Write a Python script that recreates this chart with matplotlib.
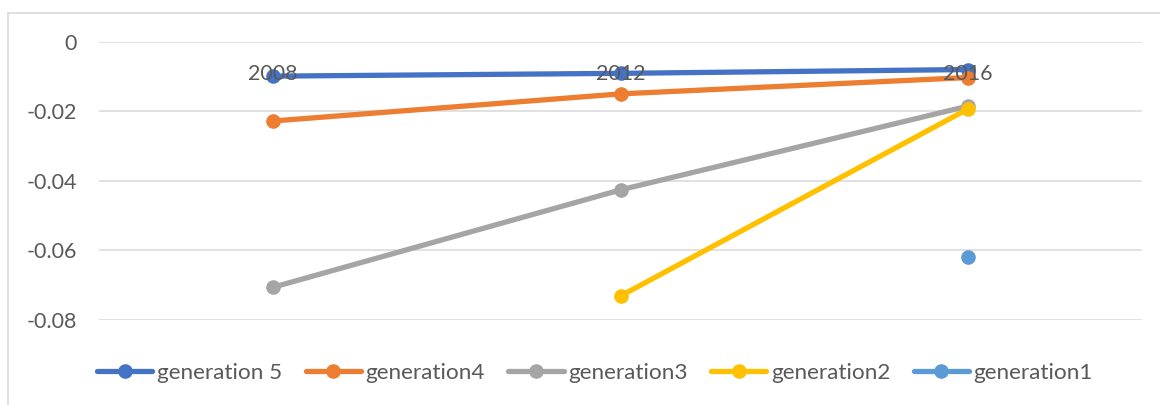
import numpy as np
import matplotlib
matplotlib.use("Agg")
import matplotlib.pyplot as plt
from matplotlib.patches import Rectangle

plt.rcParams['font.family'] = ['Lato', 'DejaVu Sans']

# data
years = ["2008", "2012", "2016"]
series_names = ["generation 5", "generation4", "generation3", "generation2", "generation1"]
gen5 = [-0.0099, -0.0091, -0.0080]
gen4 = [-0.0228, -0.0150, -0.0103]
gen3 = [-0.0706, -0.0426, -0.0185]
gen2 = [np.nan, -0.0731, -0.0193]
gen1 = [np.nan, np.nan, -0.0620]
y_ticks = [0, -0.02, -0.04, -0.06, -0.08]
y_labels = ["0", "-0.02", "-0.04", "-0.06", "-0.08"]

colors = ["#4472C4", "#ED7D31", "#A5A5A5", "#FFC000", "#5B9BD5"]
txt = "#595959"

fig = plt.figure(figsize=(11.6, 4.05), dpi=100)
ax = fig.add_axes([99/1160, 1-320/405, (1142-99)/1160, (320-41.7)/405])

x = np.arange(len(years))
for vals, name, c in zip([gen5, gen4, gen3, gen2, gen1], series_names, colors):
    ax.plot(x, vals, color=c, lw=3.8, marker='o', markersize=9.5,
            solid_capstyle='round', label=name, zorder=3)

ax.set_xlim(-0.5, 2.5)
ax.set_ylim(-0.08, 0)
ax.set_yticks(y_ticks)
ax.set_yticklabels(y_labels)
ax.set_xticks(x)
ax.set_xticklabels(years)

ax.grid(axis='y', color='#d9d9d9', lw=1.1)
ax.set_axisbelow(True)
for s in ax.spines.values():
    s.set_visible(False)
ax.spines['bottom'].set_position(('data', 0))
ax.tick_params(axis='both', length=0, labelsize=15.5, labelcolor=txt)
ax.tick_params(axis='y', pad=16)
ax.tick_params(axis='x', pad=16)
ax.xaxis.set_zorder(5)

leg = fig.legend(loc='center', bbox_to_anchor=(595/1160, 1-373/405), ncol=5,
                 frameon=False, fontsize=16.2, handlelength=2.45,
                 handletextpad=0.2, columnspacing=1.05, labelcolor=txt)

# chart frame (cropped on right and bottom)
fig.patches.append(Rectangle((8.3/1160, -0.1), 1.2, (405-12.5)/405+0.1,
                             transform=fig.transFigure, fill=False,
                             edgecolor='#d9d9d9', lw=1.2))

fig.savefig("out.png", dpi=100)
